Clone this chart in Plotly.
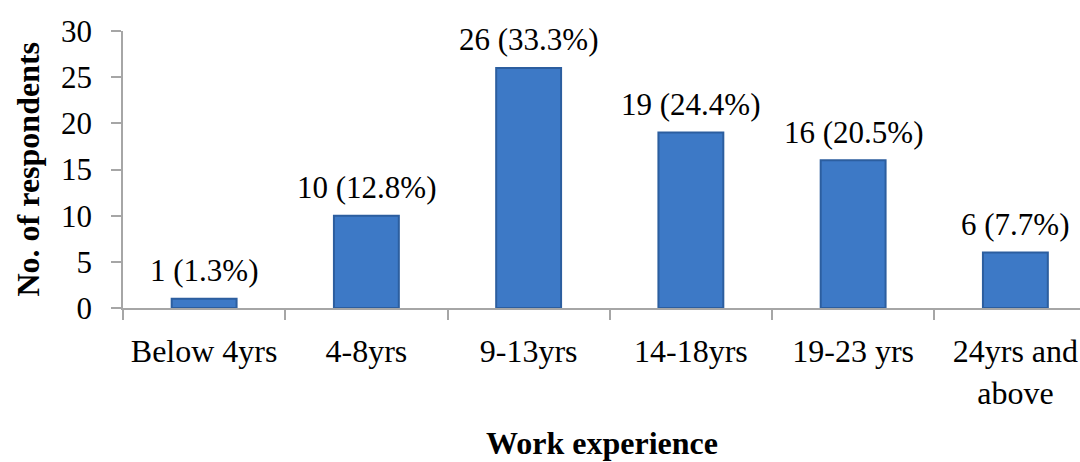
import plotly.graph_objects as go

categories = ["Below 4yrs", "4-8yrs", "9-13yrs", "14-18yrs", "19-23 yrs", "24yrs and<br>above"]
counts = [1, 10, 26, 19, 16, 6]
percents = ["1.3%", "12.8%", "33.3%", "24.4%", "20.5%", "7.7%"]
y_ticks = [0, 5, 10, 15, 20, 25, 30]

FONT = "Liberation Serif"
AXIS_COLOR = "#a6a6a6"

fig = go.Figure()
fig.add_trace(go.Bar(
    x=list(range(len(categories))),
    y=counts,
    width=0.4,
    marker=dict(color="#3d79c6", line=dict(color="#2c5e9f", width=2)),
    hoverinfo="skip",
))

for i, (c, p) in enumerate(zip(counts, percents)):
    fig.add_annotation(
        x=i, y=c, xref="x", yref="y",
        text=f"{c} ({p})", showarrow=False,
        yanchor="middle", yshift=28,
        font=dict(family=FONT, size=31, color="#000000"),
    )

fig.add_annotation(
    x=0, y=0.5, xref="paper", yref="paper",
    text="<b>No. of respondents</b>", showarrow=False, textangle=-90,
    xanchor="center", yanchor="middle", xshift=-96,
    font=dict(family=FONT, size=32, color="#000000"),
)
fig.add_annotation(
    x=0.5, y=0, xref="paper", yref="paper",
    text="<b>Work experience</b>", showarrow=False,
    xanchor="center", yanchor="middle", yshift=-135,
    font=dict(family=FONT, size=32, color="#000000"),
)

# plot area: y-axis at x=123, categories 162.25 px wide, extends past right edge
plot_w = 1080 - 123
cat_px = 162.25
right_end = -0.5 + plot_w / cat_px

fig.update_layout(
    width=1080, height=462,
    margin=dict(l=123, r=0, t=31, b=154, autoexpand=False),
    paper_bgcolor="white", plot_bgcolor="white",
    showlegend=False,
    bargap=0.6,
    font=dict(family=FONT, size=31, color="#000000"),
)
fig.update_xaxes(
    range=[-0.5, right_end],
    tickmode="array",
    tickvals=list(range(len(categories))),
    ticktext=categories,
    showline=True, linecolor=AXIS_COLOR, linewidth=1.5,
    ticks="", showgrid=False, zeroline=False,
    ticklabelstandoff=14,
    tickfont=dict(family=FONT, size=32, color="#000000"),
    fixedrange=True,
)
fig.update_xaxes(
    minor=dict(tickvals=[k + 0.5 for k in range(-1, len(categories))],
               ticks="outside", ticklen=10, tickcolor=AXIS_COLOR, tickwidth=1.5, showgrid=False),
)
fig.update_yaxes(
    range=[0, 30],
    tickmode="array", tickvals=y_ticks,
    showline=True, linecolor=AXIS_COLOR, linewidth=1.5,
    ticks="outside", ticklen=10, tickcolor=AXIS_COLOR, tickwidth=1.5,
    showgrid=False, zeroline=False,
    ticklabelstandoff=13,
    tickfont=dict(family=FONT, size=31, color="#000000"),
    fixedrange=True,
)

fig.write_html("out.html")
